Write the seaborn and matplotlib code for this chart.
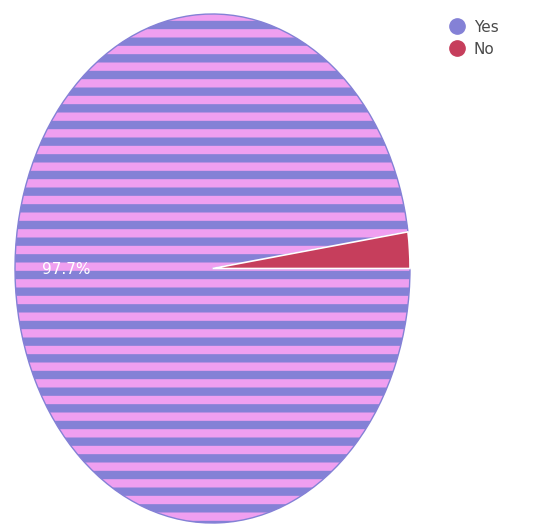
import matplotlib
matplotlib.use("Agg")
import matplotlib.pyplot as plt
import seaborn as sns
from matplotlib.lines import Line2D

# survey answers
labels = ["Yes", "No"]
shares = [97.7, 2.3]
colors = ["#8481d6", "#c63e5c"]
stripe_bg = "#ef9ff0"

sns.set_theme(style="white")
plt.rcParams["hatch.linewidth"] = 6.0

fig = plt.figure(figsize=(5.46, 5.25), dpi=100)
ax = fig.add_axes([15 / 546, 2 / 525, 395 / 546, 509 / 525])

wedges, texts, autotexts = ax.pie(
    shares,
    colors=colors,
    startangle=shares[1] / 100 * 360,
    counterclock=True,
    autopct=lambda p: f"{p:.1f}%" if p > 5 else "",
    pctdistance=0.74,
    wedgeprops=dict(edgecolor="white", linewidth=1.2),
    textprops=dict(color="white", fontsize=11),
)
# striped "Yes" slice: pink base with purple-blue bands
wedges[0].set_facecolor(stripe_bg)
wedges[0].set_hatch("-")
wedges[0].set_edgecolor(colors[0])
wedges[0].set_linewidth(1.0)
for t in autotexts:
    x, y = t.get_position()
    t.set_position((x, -0.005))
    t.set_color("white")

ax.set_aspect("auto")
ax.set_xlim(-1, 1)
ax.set_ylim(-1, 1)
ax.axis("off")

handles = [
    Line2D([0], [0], marker="o", linestyle="", markersize=11,
           markerfacecolor=c, markeredgecolor=c)
    for c in colors
]
fig.legend(handles, labels, loc="upper left", bbox_to_anchor=(428 / 546, 1 - 6 / 525),
           frameon=False, fontsize=11, handletextpad=0.1, labelspacing=0.45,
           labelcolor="#4a4a4a")

fig.savefig("out.png", dpi=100)
